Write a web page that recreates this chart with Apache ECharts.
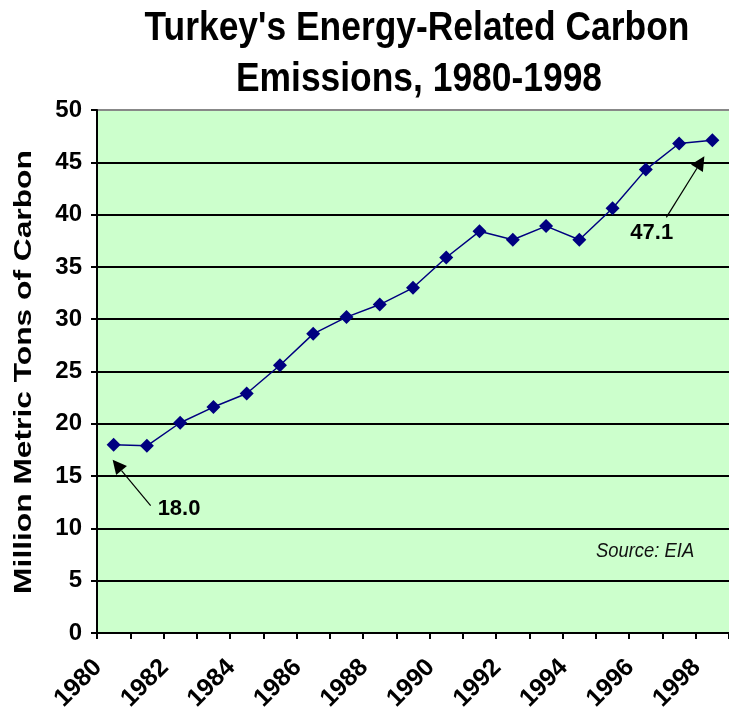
<!DOCTYPE html>
<html>
<head>
<meta charset="utf-8">
<script src="https://cdn.jsdelivr.net/npm/echarts@6/dist/echarts.min.js"></script>
<style>
  html, body { margin: 0; padding: 0; background: #fff; }
  #chart { width: 729px; height: 719px; }
</style>
</head>
<body>
<div id="chart"></div>
<script>
var years = ["1980", "1981", "1982", "1983", "1984", "1985", "1986", "1987", "1988", "1989",
  "1990", "1991", "1992", "1993", "1994", "1995", "1996", "1997", "1998"];
var carbon = [18.0, 17.9, 20.1, 21.6, 22.9, 25.6, 28.6, 30.2, 31.4, 33.0,
  35.9, 38.4, 37.6, 38.9, 37.6, 40.6, 44.3, 46.8, 47.1];
var yTicks = [0, 5, 10, 15, 20, 25, 30, 35, 40, 45, 50];
var titleLines = ["Turkey's Energy-Related Carbon", "Emissions, 1980-1998"];
var yName = "Million Metric Tons of Carbon";
var source = "Source: EIA";

var FONT = "'Liberation Sans', Arial, sans-serif";

var chart = echarts.init(document.getElementById("chart"));
var option = {
  backgroundColor: "#fff",
  animation: false,
  grid: {
    left: 97,
    top: 110,
    bottom: 86,
    right: -9,
    show: true,
    backgroundColor: "#ccffcc",
    borderWidth: 0
  },
  xAxis: {
    type: "category",
    data: years,
    boundaryGap: true,
    axisLine: { lineStyle: { color: "#000", width: 2 } },
    axisTick: { show: true, interval: 0, length: 6, lineStyle: { color: "#000", width: 2 } },
    axisLabel: {
      interval: 1,
      rotate: 45,
      margin: 15,
      padding: [0, 22, 0, 0],
      fontFamily: FONT,
      fontWeight: "bold",
      fontSize: 25,
      color: "#000"
    },
    splitLine: { show: false }
  },
  yAxis: {
    type: "value",
    min: yTicks[0],
    max: yTicks[yTicks.length - 1],
    interval: 5,
    axisLine: { show: true, lineStyle: { color: "#000", width: 2 } },
    axisTick: { show: true, length: 6, lineStyle: { color: "#000", width: 2 } },
    axisLabel: {
      margin: 15,
      fontFamily: FONT,
      fontWeight: "bold",
      fontSize: 24,
      color: "#000"
    },
    splitLine: {
      show: true,
      lineStyle: {
        color: ["#000", "#000", "#000", "#000", "#000", "#000", "#000", "#000", "#000", "#000", "#888"],
        width: 2
      }
    }
  },
  series: [{
    type: "line",
    data: carbon,
    symbol: "diamond",
    symbolSize: 14,
    lineStyle: { color: "#000080", width: 1.5 },
    itemStyle: { color: "#000080" }
  }]
};
chart.setOption(option);

// arrows + value labels, placed relative to the first and last points
function arrow(tip, tail) {
  var dx = tip[0] - tail[0], dy = tip[1] - tail[1];
  var len = Math.sqrt(dx * dx + dy * dy);
  var ux = dx / len, uy = dy / len;
  var hl = 14, hw = 7;
  var bx = tip[0] - ux * hl, by = tip[1] - uy * hl;
  return [
    { type: "line", shape: { x1: tail[0], y1: tail[1], x2: bx, y2: by }, style: { stroke: "#000", lineWidth: 1.2 } },
    { type: "polygon", shape: { points: [tip, [bx - uy * hw, by + ux * hw], [bx + uy * hw, by - ux * hw]] }, style: { fill: "#000" } }
  ];
}
var p0 = chart.convertToPixel({ seriesIndex: 0 }, [0, carbon[0]]);
var pN = chart.convertToPixel({ seriesIndex: 0 }, [years.length - 1, carbon[carbon.length - 1]]);
var valStyle = { fontFamily: FONT, fontWeight: "bold", fontSize: 22, fill: "#000", verticalAlign: "middle" };

var g = []
  .concat(arrow([p0[0] - 1, p0[1] + 15], [p0[0] + 37, p0[1] + 61]))
  .concat(arrow([pN[0] - 8, pN[1] + 16], [pN[0] - 46, pN[1] + 77]));
g.push({ type: "text", x: p0[0] + 44, y: p0[1] + 64, style: Object.assign({ text: carbon[0].toFixed(1) }, valStyle) });
g.push({ type: "text", x: pN[0] - 82, y: pN[1] + 93, style: Object.assign({ text: carbon[carbon.length - 1].toFixed(1) }, valStyle) });
g.push({ type: "text", x: 596, y: 551, scaleX: 0.92, style: { text: source, fontFamily: FONT, fontStyle: "italic", fontSize: 20, fill: "#111", verticalAlign: "middle" } });

// title (condensed look) and stretched y-axis name
g.push({ type: "text", x: 417, y: 29, scaleX: 0.885, style: { text: titleLines[0], fontFamily: FONT, fontWeight: "bold", fontSize: 40, fill: "#000", align: "center", verticalAlign: "middle" } });
g.push({ type: "text", x: 419, y: 80, scaleX: 0.885, style: { text: titleLines[1], fontFamily: FONT, fontWeight: "bold", fontSize: 40, fill: "#000", align: "center", verticalAlign: "middle" } });
g.push({ type: "text", x: 25, y: 372, rotation: Math.PI / 2, scaleX: 1.38, style: { text: yName, fontFamily: FONT, fontWeight: "bold", fontSize: 23, fill: "#000", align: "center", verticalAlign: "middle" } });

chart.setOption({ graphic: g });

window.addEventListener("resize", function () {
  chart.resize();
});
</script>
</body>
</html>
